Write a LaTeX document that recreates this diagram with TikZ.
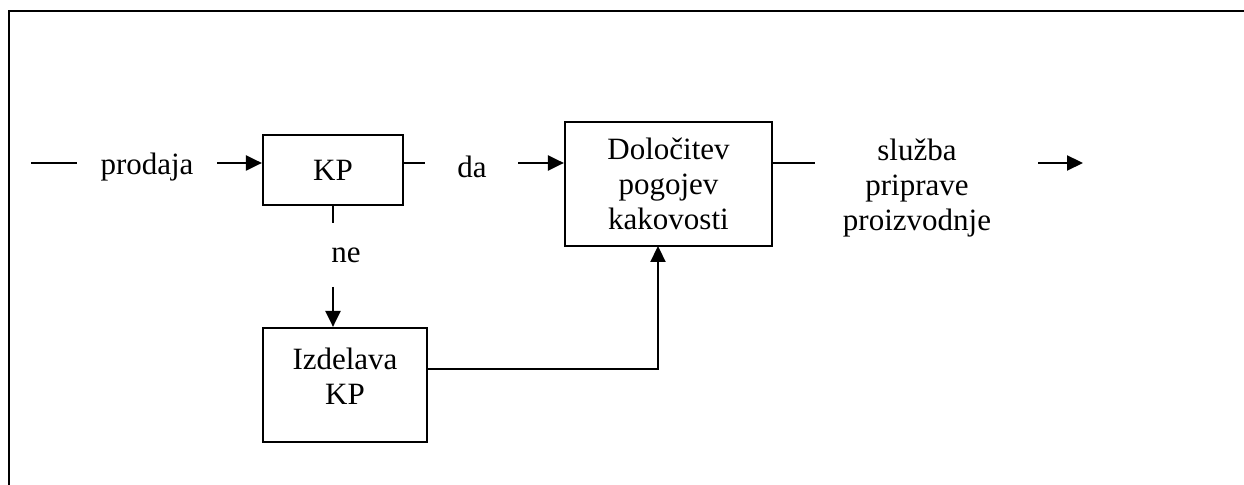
\documentclass[tikz,border=0pt]{standalone}
\usepackage{fontspec}
\setmainfont{Liberation Serif}
\usetikzlibrary{arrows.meta}
\begin{document}
\begin{tikzpicture}[x=0.5pt,y=-0.5pt,
  every node/.style={font=\fontsize{15.5}{17.5}\selectfont, inner sep=0pt},
  box/.style={draw, line width=1.1pt, align=center},
  ln/.style={line width=1.1pt},
  arr/.style={line width=1.1pt, -{Triangle[length=8pt,width=7.5pt]}},
  lbl/.style={align=center}]
\useasboundingbox (0,0) rectangle (1244,485);
\draw[line width=1.4pt] (9,485) -- (9,11) -- (1244,11);
% boxes
\node[box, minimum width=70pt, minimum height=35pt] (kp) at (333,170) {KP};
\node[box, minimum width=103.5pt, minimum height=62pt] (dol) at (668.5,184) {Določitev\\pogojev\\kakovosti};
\node[box, minimum width=82pt, minimum height=57pt] (izd) at (345,385) {};
\node[lbl] (izdt) at (345,376) {Izdelava\\KP};
% labels
\node[lbl] (prod) at (147,167) {prodaja};
\node[lbl] (da) at (472,167) {da};
\node[lbl] (ne) at (346,255) {ne};
\node[lbl] (sluz) at (917,188) {služba\\priprave\\proizvodnje};
% free ends
\coordinate (s1) at (31,163);
\coordinate (s2) at (77,163);
\coordinate (a1) at (217,163);
\coordinate (d1) at (425,163);
\coordinate (a2) at (518,163);
\coordinate (d2) at (815,163);
\coordinate (a3) at (1038,163);
\coordinate (a4) at (1083,163);
\coordinate (n1) at (333,223);
\coordinate (n2) at (333,287);
\coordinate (up) at (658,246);
% connectors
\draw[ln] (s1) -- (s2);
\draw[arr] (a1) -- (a1 -| kp.west);
\draw[ln] (kp.east |- d1) -- (d1);
\draw[arr] (a2) -- (a2 -| dol.west);
\draw[ln] (dol.east |- d2) -- (d2);
\draw[arr] (a3) -- (a4);
\draw[ln] (n1 |- kp.south) -- (n1);
\draw[arr] (n2) -- (n2 |- izd.north);
\draw[arr] ([yshift=8pt]izd.east) -| (up);
\end{tikzpicture}
\end{document}
